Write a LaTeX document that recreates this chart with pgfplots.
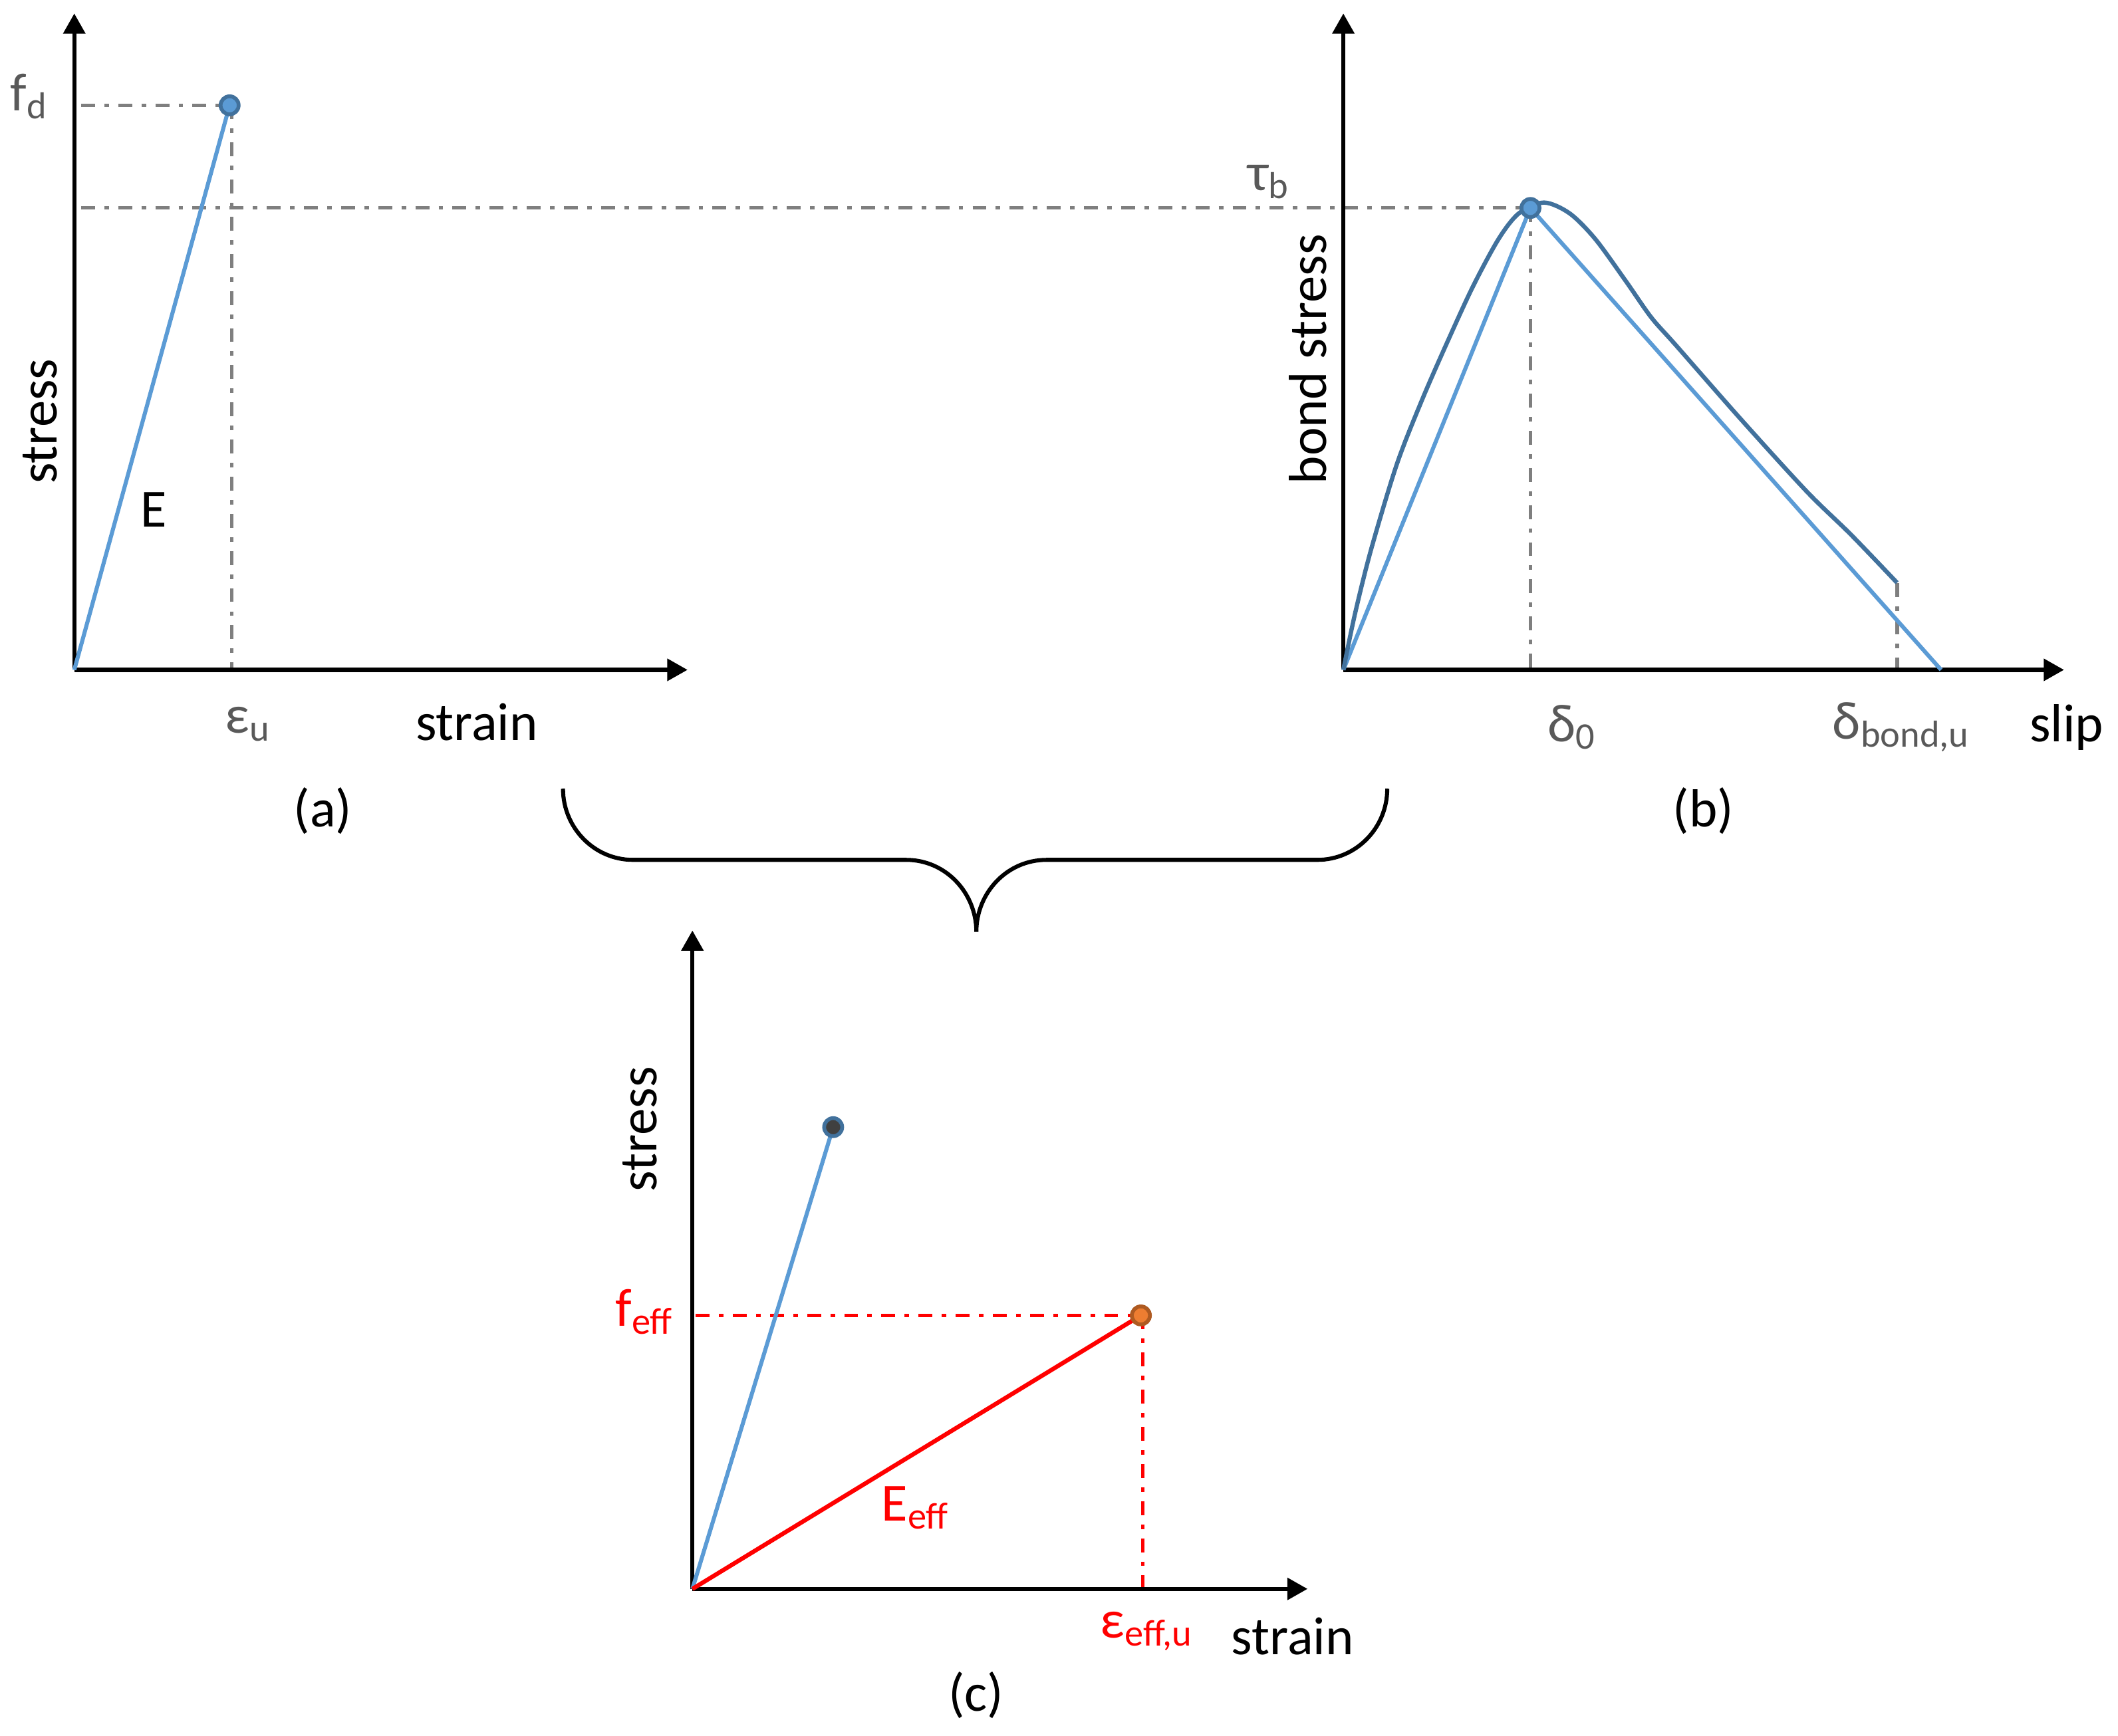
\documentclass[border=0pt]{standalone}
\usepackage{fontspec}
\setmainfont{Carlito}
\usepackage{pgfplots}
\pgfplotsset{compat=1.18}
\usetikzlibrary{arrows.meta}

\definecolor{lblue}{HTML}{5B9BD5}
\definecolor{dblue}{HTML}{41719C}
\definecolor{dgray}{HTML}{7F7F7F}
\definecolor{tgray}{HTML}{595959}
\definecolor{orng}{HTML}{ED7D31}
\definecolor{orngd}{HTML}{AE5A21}
\definecolor{dotfill}{HTML}{404040}

\newcommand\lbl{\fontsize{11.3}{14}\selectfont}

\tikzset{
  lab/.style={font=\lbl, inner sep=0pt},
  ax/.style={black, line width=0.85pt, -{Triangle[length=1.5mm,width=1.6mm]}},
  dd/.style={line width=0.75pt, dash pattern=on 1.03mm off 0.69mm on 0.34mm off 0.69mm},
  dot/.style={only marks, mark=*, mark size=1.9pt},
}

\begin{document}
\begin{tikzpicture}
% page = the whole (hidden) axis area
\useasboundingbox (0,0) rectangle (156.8mm,128.5mm);
\begin{axis}[
  at={(0,0)}, anchor=south west,
  width=156.8mm, height=128.5mm, scale only axis,
  xmin=0, xmax=1568, ymin=0, ymax=1285,
  axis lines=none, clip=false,
]
% ---------- panel (a) ----------
\addplot[dd, dgray] coordinates {(60,1207) (170,1207)};
\addplot[dd, dgray] coordinates {(60,1131) (1133,1131)};
\addplot[dd, dgray] coordinates {(171.5,1207) (171.5,790)};
\addplot[ax] coordinates {(55,789) (55,1275)};
\addplot[ax] coordinates {(55,789) (509,789)};
\addplot[lblue, line width=0.85pt] coordinates {(55,789) (170,1207)};
\addplot[dot, mark options={fill=lblue, draw=dblue, line width=0.8pt}]
  coordinates {(170,1207)};

\node[lab, text=tgray, anchor=base east] at (axis cs:37,1203) {f\textsubscript{d}};
\node[lab, text=tgray, anchor=base west] at (axis cs:166,742) {ε\textsubscript{u}};
\node[lab, anchor=base west] at (axis cs:307,737) {strain};
\node[lab, anchor=base] at (axis cs:239,673) {(a)};
\node[lab, anchor=base, rotate=90] at (axis cs:42,973) {stress};
\node[lab, anchor=base] at (axis cs:114,895) {E};

% ---------- panel (b) ----------
\addplot[dd, dgray] coordinates {(1133,1131) (1133,790)};
\addplot[dd, dgray] coordinates {(1404.5,853) (1404.5,790)};
\addplot[ax] coordinates {(994.5,789) (994.5,1275)};
\addplot[ax] coordinates {(994.5,789) (1528,789)};
\addplot[lblue, line width=0.85pt] coordinates {(994.5,789) (1133,1131) (1437,789)};
\addplot[dblue, line width=0.9pt, smooth] coordinates {
  (994.5,789) (1003,830) (1015,878) (1034,941) (1052.8,989)
  (1071.6,1032) (1090.5,1073) (1109.4,1108) (1124.4,1127) (1143,1135)
  (1162,1127) (1181,1108) (1203.5,1077) (1222.4,1050) (1241,1029)
  (1288.4,975) (1337.6,921) (1370.4,889) (1404.4,853.5)};
\addplot[dot, mark options={fill=lblue, draw=dblue, line width=0.8pt}]
  coordinates {(1133,1131)};

\node[lab, text=tgray, anchor=base east] at (axis cs:956,1144) {τ\textsubscript{b}};
\node[lab, text=tgray, anchor=base west] at (axis cs:1145,736) {δ\textsubscript{0}};
\node[lab, text=tgray, anchor=base west] at (axis cs:1356,738) {δ\textsubscript{bond,u}};
\node[lab, anchor=base west] at (axis cs:1502,736) {slip};
\node[lab, anchor=base] at (axis cs:1261,673) {(b)};
\node[lab, anchor=base, rotate=90] at (axis cs:982,1019) {bond stress};

% ---------- brace ----------
\draw[black, line width=0.85pt]
  (axis cs:416.8,701) .. controls (axis cs:416.8,672) and (axis cs:440,648.3) .. (axis cs:468.6,648.3)
  -- (axis cs:670.9,648.3) .. controls (axis cs:700,648.3) and (axis cs:722.8,624) .. (axis cs:722.8,595)
  .. controls (axis cs:722.8,624) and (axis cs:745.6,648.3) .. (axis cs:774.7,648.3)
  -- (axis cs:975.2,648.3) .. controls (axis cs:1004,648.3) and (axis cs:1027,672) .. (axis cs:1027,701);

% ---------- panel (c) ----------
\addplot[dd, red] coordinates {(515,311) (844,311)};
\addplot[dd, red] coordinates {(846,311) (846,109)};
\addplot[ax] coordinates {(512.6,108.5) (512.6,596)};
\addplot[ax] coordinates {(512.6,108.5) (968,108.5)};
\addplot[lblue, line width=0.85pt] coordinates {(512.6,108.5) (616.8,450.4)};
\addplot[red, line width=0.9pt] coordinates {(512.6,108.5) (844.6,311)};
\addplot[dot, mark options={fill=dotfill, draw=dblue, line width=0.8pt}]
  coordinates {(616.8,450.4)};
\addplot[dot, mark options={fill=orng, draw=orngd, line width=0.8pt}]
  coordinates {(844.6,311)};

\node[lab, text=red, anchor=base east] at (axis cs:500,303) {f\textsubscript{eff}};
\node[lab, text=red, anchor=base west] at (axis cs:652,159) {E\textsubscript{eff}};
\node[lab, text=red, anchor=base west] at (axis cs:814,72) {ε\textsubscript{eff,u}};
\node[lab, anchor=base west] at (axis cs:911,60) {strain};
\node[lab, anchor=base] at (axis cs:722.6,18) {(c)};
\node[lab, anchor=base, rotate=90] at (axis cs:486,449) {stress};
\end{axis}
\end{tikzpicture}
\end{document}
